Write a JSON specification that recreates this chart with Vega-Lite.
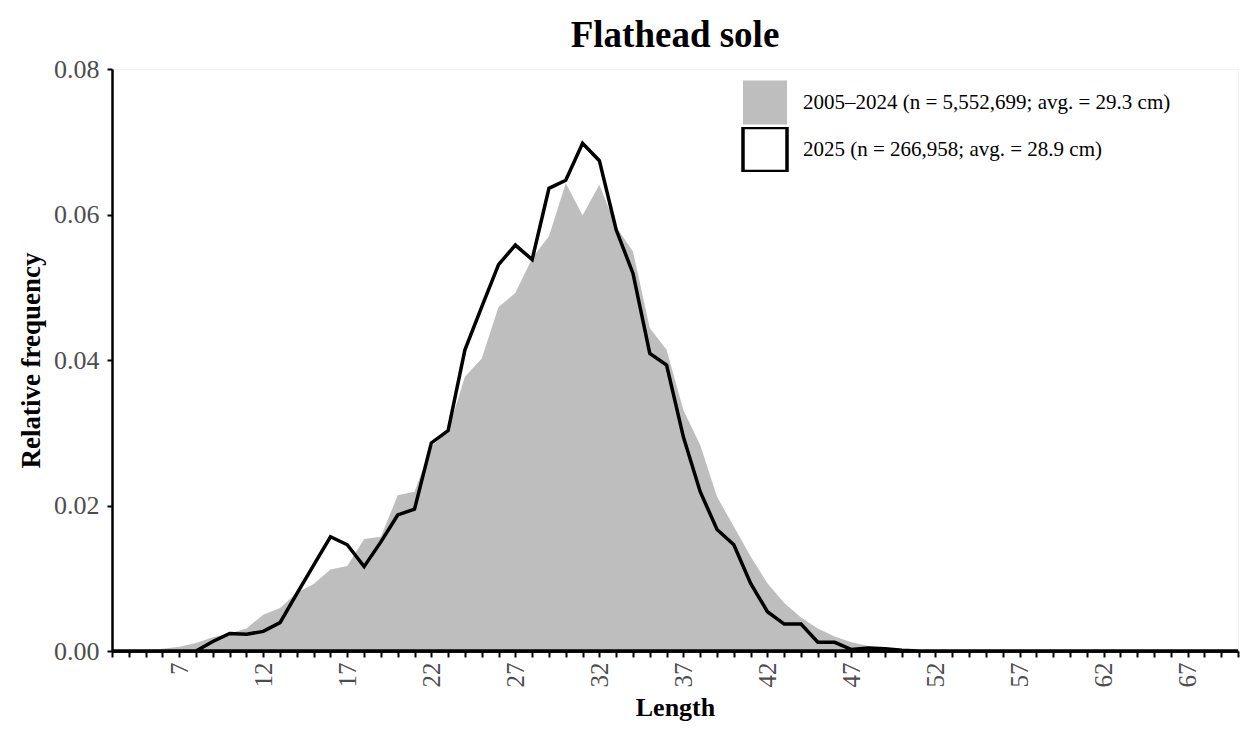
{
  "$schema": "https://vega.github.io/schema/vega-lite/v6.json",
  "autosize": "none",
  "width": 1126,
  "height": 582,
  "padding": {"left": 112, "top": 69, "right": 13, "bottom": 83},
  "background": "white",
  "config": {
    "view": {"stroke": "#F2F2F2", "strokeWidth": 1},
    "font": "Liberation Serif"
  },
  "title": {
    "text": "Flathead sole",
    "anchor": "middle",
    "frame": "group",
    "font": "Liberation Serif",
    "fontSize": 37,
    "fontWeight": "bold",
    "color": "black",
    "offset": 1
  },
  "data": {
    "values": [
      {"L": 3, "a_hist": 0, "b_2025": 0},
      {"L": 4, "a_hist": 0.00005, "b_2025": 0},
      {"L": 5, "a_hist": 0.0001, "b_2025": 0},
      {"L": 6, "a_hist": 0.0003, "b_2025": 0},
      {"L": 7, "a_hist": 0.0006, "b_2025": 0},
      {"L": 8, "a_hist": 0.0011, "b_2025": 0},
      {"L": 9, "a_hist": 0.0019, "b_2025": 0.0013},
      {"L": 10, "a_hist": 0.0024, "b_2025": 0.0024},
      {"L": 11, "a_hist": 0.0031, "b_2025": 0.0023},
      {"L": 12, "a_hist": 0.0050, "b_2025": 0.0027},
      {"L": 13, "a_hist": 0.0059, "b_2025": 0.0039},
      {"L": 14, "a_hist": 0.0080, "b_2025": 0.0079},
      {"L": 15, "a_hist": 0.0092, "b_2025": 0.0118},
      {"L": 16, "a_hist": 0.0112, "b_2025": 0.0157},
      {"L": 17, "a_hist": 0.0117, "b_2025": 0.0146},
      {"L": 18, "a_hist": 0.0154, "b_2025": 0.0116},
      {"L": 19, "a_hist": 0.0157, "b_2025": 0.0150},
      {"L": 20, "a_hist": 0.0214, "b_2025": 0.0187},
      {"L": 21, "a_hist": 0.0219, "b_2025": 0.0195},
      {"L": 22, "a_hist": 0.0281, "b_2025": 0.0286},
      {"L": 23, "a_hist": 0.0303, "b_2025": 0.0303},
      {"L": 24, "a_hist": 0.0377, "b_2025": 0.0414},
      {"L": 25, "a_hist": 0.0402, "b_2025": 0.0473},
      {"L": 26, "a_hist": 0.0473, "b_2025": 0.0531},
      {"L": 27, "a_hist": 0.0492, "b_2025": 0.0558},
      {"L": 28, "a_hist": 0.0540, "b_2025": 0.0538},
      {"L": 29, "a_hist": 0.0570, "b_2025": 0.0636},
      {"L": 30, "a_hist": 0.0643, "b_2025": 0.0647},
      {"L": 31, "a_hist": 0.0599, "b_2025": 0.0698},
      {"L": 32, "a_hist": 0.0641, "b_2025": 0.0674},
      {"L": 33, "a_hist": 0.0583, "b_2025": 0.0579},
      {"L": 34, "a_hist": 0.0549, "b_2025": 0.0519},
      {"L": 35, "a_hist": 0.0444, "b_2025": 0.0409},
      {"L": 36, "a_hist": 0.0414, "b_2025": 0.0393},
      {"L": 37, "a_hist": 0.0331, "b_2025": 0.0294},
      {"L": 38, "a_hist": 0.0283, "b_2025": 0.0219},
      {"L": 39, "a_hist": 0.0212, "b_2025": 0.0167},
      {"L": 40, "a_hist": 0.0171, "b_2025": 0.0146},
      {"L": 41, "a_hist": 0.0130, "b_2025": 0.0093},
      {"L": 42, "a_hist": 0.0093, "b_2025": 0.0054},
      {"L": 43, "a_hist": 0.0066, "b_2025": 0.0037},
      {"L": 44, "a_hist": 0.0046, "b_2025": 0.0037},
      {"L": 45, "a_hist": 0.0031, "b_2025": 0.0012},
      {"L": 46, "a_hist": 0.0020, "b_2025": 0.0012},
      {"L": 47, "a_hist": 0.0012, "b_2025": 0.0002},
      {"L": 48, "a_hist": 0.0007, "b_2025": 0.0004},
      {"L": 49, "a_hist": 0.0004, "b_2025": 0.0003},
      {"L": 50, "a_hist": 0.0002, "b_2025": 0.0001},
      {"L": 51, "a_hist": 0.0001, "b_2025": 0},
      {"L": 52, "a_hist": 0.00005, "b_2025": 0},
      {"L": 53, "a_hist": 0, "b_2025": 0},
      {"L": 54, "a_hist": 0, "b_2025": 0},
      {"L": 55, "a_hist": 0, "b_2025": 0},
      {"L": 56, "a_hist": 0, "b_2025": 0},
      {"L": 57, "a_hist": 0, "b_2025": 0},
      {"L": 58, "a_hist": 0, "b_2025": 0},
      {"L": 59, "a_hist": 0, "b_2025": 0},
      {"L": 60, "a_hist": 0, "b_2025": 0},
      {"L": 61, "a_hist": 0, "b_2025": 0},
      {"L": 62, "a_hist": 0, "b_2025": 0},
      {"L": 63, "a_hist": 0, "b_2025": 0},
      {"L": 64, "a_hist": 0, "b_2025": 0},
      {"L": 65, "a_hist": 0, "b_2025": 0},
      {"L": 66, "a_hist": 0, "b_2025": 0},
      {"L": 67, "a_hist": 0, "b_2025": 0},
      {"L": 68, "a_hist": 0, "b_2025": 0},
      {"L": 69, "a_hist": 0, "b_2025": 0},
      {"L": 70, "a_hist": 0, "b_2025": 0}
    ]
  },
  "transform": [
    {"fold": ["a_hist", "b_2025"], "as": ["series", "freq"]}
  ],
  "mark": {"type": "area", "strokeWidth": 3.5, "strokeJoin": "miter", "interpolate": "linear"},
  "encoding": {
    "x": {
      "field": "L",
      "type": "quantitative",
      "scale": {"domain": [3, 70], "nice": false, "zero": false},
      "axis": {
        "title": "Length",
        "values": [3,4,5,6,7,8,9,10,11,12,13,14,15,16,17,18,19,20,21,22,23,24,25,26,27,28,29,30,31,32,33,34,35,36,37,38,39,40,41,42,43,44,45,46,47,48,49,50,51,52,53,54,55,56,57,58,59,60,61,62,63,64,65,66,67,68,69,70],
        "labelExpr": "(datum.value - 2) % 5 == 0 ? datum.label : ''",
        "labelOverlap": false,
        "labelAngle": -90,
        "labelAlign": "right",
        "labelBaseline": "middle",
        "labelFont": "Liberation Serif",
        "labelFontSize": 25,
        "labelColor": "#4D4D4D",
        "labelPadding": 5,
        "tickSize": 6,
        "tickWidth": 2,
        "tickColor": "black",
        "domainColor": "black",
        "domainWidth": 2.5,
        "grid": false,
        "titleFont": "Liberation Serif",
        "titleFontSize": 26,
        "titleFontWeight": "bold",
        "titleColor": "black",
        "titlePadding": 7,
        "zindex": 1
      }
    },
    "y": {
      "field": "freq",
      "type": "quantitative",
      "stack": null,
      "scale": {"domain": [0, 0.08], "nice": false},
      "axis": {
        "title": "Relative frequency",
        "values": [0, 0.02, 0.04, 0.06, 0.08],
        "format": ".2f",
        "labelFont": "Liberation Serif",
        "labelFontSize": 26,
        "labelColor": "#4D4D4D",
        "labelPadding": 8,
        "tickSize": 5,
        "tickWidth": 2,
        "tickColor": "black",
        "domainColor": "black",
        "domainWidth": 2.5,
        "grid": false,
        "titleFont": "Liberation Serif",
        "titleFontSize": 27,
        "titleFontWeight": "bold",
        "titleColor": "black",
        "titlePadding": 8,
        "zindex": 1
      }
    },
    "fill": {
      "field": "series",
      "type": "nominal",
      "scale": {"domain": ["a_hist", "b_2025"], "range": ["#BEBEBE", "transparent"]},
      "legend": {
        "title": null,
        "orient": "none",
        "legendX": 629,
        "legendY": 11,
        "padding": 0,
        "symbolType": "square",
        "symbolSize": 1936,
        "symbolStrokeWidth": 3.5,
        "clipHeight": 45,
        "rowPadding": 2,
        "labelOffset": 14,
        "labelFont": "Liberation Serif",
        "labelFontSize": 21,
        "labelColor": "black",
        "labelLimit": 600,
        "labelExpr": "datum.value == 'a_hist' ? '2005–2024 (n = 5,552,699; avg. = 29.3 cm)' : '2025 (n = 266,958; avg. = 28.9 cm)'"
      }
    },
    "stroke": {
      "field": "series",
      "type": "nominal",
      "scale": {"domain": ["a_hist", "b_2025"], "range": ["transparent", "#000000"]},
      "legend": {
        "title": null,
        "orient": "none",
        "legendX": 629,
        "legendY": 11,
        "padding": 0,
        "symbolType": "square",
        "symbolSize": 1936,
        "symbolStrokeWidth": 3.5,
        "clipHeight": 45,
        "rowPadding": 2,
        "labelOffset": 14,
        "labelFont": "Liberation Serif",
        "labelFontSize": 21,
        "labelColor": "black",
        "labelLimit": 600,
        "labelExpr": "datum.value == 'a_hist' ? '2005–2024 (n = 5,552,699; avg. = 29.3 cm)' : '2025 (n = 266,958; avg. = 28.9 cm)'"
      }
    }
  }
}
